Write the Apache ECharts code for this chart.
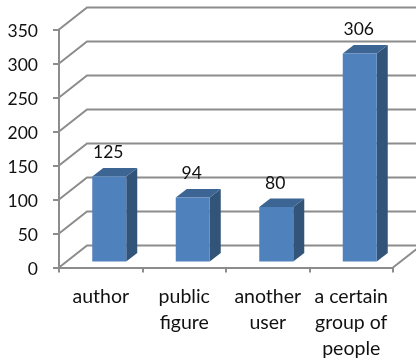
<!DOCTYPE html>
<html>
<head>
<meta charset="utf-8">
<style>
  html, body { margin: 0; padding: 0; background: #fff; }
  #chart { width: 416px; height: 358px; }
</style>
<script src="https://cdn.jsdelivr.net/npm/echarts@6/dist/echarts.min.js"></script>
</head>
<body>
<div id="chart"></div>
<script>
// Who the remarks were aimed at, with counts per target
const categories = ['author', 'public\nfigure', 'another\nuser', 'a certain\ngroup of\npeople'];
const counts = [125, 94, 80, 306];
const axisTicks = [0, 50, 100, 150, 200, 250, 300, 350];

const FONT = 'Lato, "Open Sans", sans-serif';
const LINE = '#8c8c8c';

// Pseudo-3D depth of the wall behind the plot and of each column
const WALL_DX = 28, WALL_DY = -22;
const BAR_DX = 11, BAR_DY = -8.5;
const BAR_WIDTH = 34, BAR_SHIFT_X = 8.5, BAR_SHIFT_Y = -6;

function renderWall(params, api) {
  const cs = params.coordSys;
  const y = api.coord([0, api.value(0)])[1];
  const x0 = cs.x;
  const x1 = cs.x + cs.width;
  const children = [{
    type: 'polyline',
    shape: { points: [[x0, y], [x0 + WALL_DX, y + WALL_DY], [x1 + WALL_DX, y + WALL_DY]] },
    style: { fill: null, stroke: LINE, lineWidth: 2 }
  }];
  if (api.value(0) === 0) {
    children.push({
      type: 'line',
      shape: { x1: x1, y1: y, x2: x1 + WALL_DX, y2: y + WALL_DY },
      style: { stroke: LINE, lineWidth: 2 }
    });
  }
  return { type: 'group', silent: true, children: children };
}

function renderBar(params, api) {
  const top = api.coord([api.value(0), api.value(1)]);
  const base = api.coord([api.value(0), 0]);
  const l = top[0] + BAR_SHIFT_X - BAR_WIDTH / 2;
  const r = l + BAR_WIDTH;
  const t = top[1] + BAR_SHIFT_Y;
  const b = base[1] + BAR_SHIFT_Y;
  return {
    type: 'group',
    silent: true,
    children: [
      {
        type: 'polygon',
        shape: { points: [[r, t], [r + BAR_DX, t + BAR_DY], [r + BAR_DX, b + BAR_DY], [r, b]] },
        style: { fill: '#335479' }
      },
      {
        type: 'polygon',
        shape: { points: [[l, t], [l + BAR_DX, t + BAR_DY], [r + BAR_DX, t + BAR_DY], [r, t]] },
        style: { fill: '#3d6593' }
      },
      {
        type: 'rect',
        shape: { x: l, y: t, width: BAR_WIDTH, height: b - t },
        style: { fill: '#4f81bd' }
      },
      {
        type: 'text',
        style: {
          x: (l + r) / 2 - 1,
          y: t - 24,
          text: String(api.value(1)),
          fill: '#111',
          font: '17.5px ' + FONT,
          align: 'center',
          verticalAlign: 'middle'
        }
      }
    ]
  };
}

const chart = echarts.init(document.getElementById('chart'), null, { renderer: 'canvas' });
chart.setOption({
  animation: false,
  backgroundColor: '#fff',
  grid: { left: 59, top: 29.5, width: 334, height: 238, containLabel: false, outerBoundsMode: 'none' },
  xAxis: {
    type: 'category',
    data: categories,
    axisLine: { lineStyle: { color: LINE, width: 2 } },
    axisTick: { show: true, length: 5, lineStyle: { color: LINE, width: 2 } },
    axisLabel: {
      interval: 0,
      color: '#111',
      fontFamily: FONT,
      fontSize: 19.5,
      lineHeight: 26,
      margin: 16
    }
  },
  yAxis: {
    type: 'value',
    min: 0,
    max: axisTicks[axisTicks.length - 1],
    interval: 50,
    splitLine: { show: false },
    axisLine: { show: true, lineStyle: { color: LINE, width: 2 } },
    axisTick: { show: true, length: 6, lineStyle: { color: LINE, width: 2 } },
    axisLabel: {
      margin: 21,
      formatter: '{num|{value}}',
      rich: {
        num: { color: '#111', fontFamily: FONT, fontSize: 17.5, padding: [4, 0, 0, 0] }
      }
    }
  },
  series: [
    {
      type: 'custom',
      z: 1,
      clip: false,
      renderItem: renderWall,
      data: axisTicks.map(function (v) { return [v]; }),
      encode: { y: 0 }
    },
    {
      type: 'custom',
      z: 3,
      clip: false,
      renderItem: renderBar,
      data: counts.map(function (v, i) { return [i, v]; }),
      encode: { x: 0, y: 1 }
    }
  ]
});
</script>
</body>
</html>
